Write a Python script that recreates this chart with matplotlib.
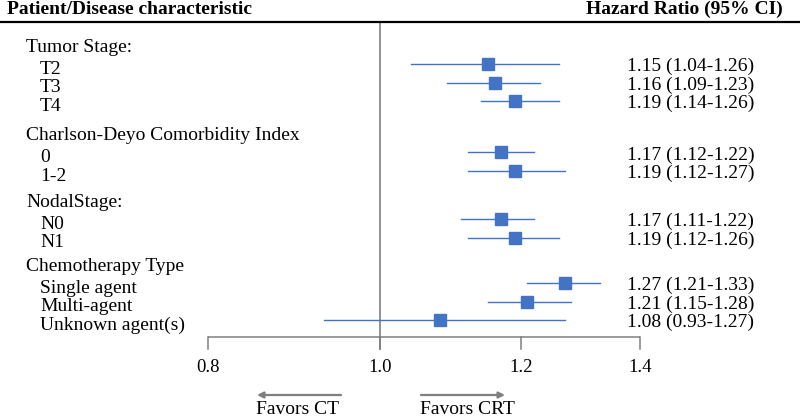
import numpy as np
import matplotlib
matplotlib.use("Agg")
import matplotlib.pyplot as plt
from matplotlib.transforms import blended_transform_factory

# ---------------- data ----------------
group_names = ["Tumor Stage:", "Charlson-Deyo Comorbidity Index", "NodalStage:", "Chemotherapy Type"]
group_items = [["T2", "T3", "T4"], ["0", "1-2"], ["N0", "N1"],
               ["Single agent", "Multi-agent", "Unknown agent(s)"]]
hr = [1.15, 1.16, 1.19, 1.17, 1.19, 1.17, 1.19, 1.27, 1.21, 1.08]
ci_low = [1.04, 1.09, 1.14, 1.12, 1.12, 1.11, 1.12, 1.21, 1.15, 0.93]
ci_high = [1.26, 1.23, 1.26, 1.22, 1.27, 1.22, 1.26, 1.33, 1.28, 1.27]
ticks = [0.8, 1.0, 1.2, 1.4]
tick_labels = ["0.8", "1.0", "1.2", "1.4"]
header_left = "Patient/Disease characteristic"
header_right = "Hazard Ratio (95% CI)"
favors_left = "Favors CT"
favors_right = "Favors CRT"

# ---------------- layout (pixels from top) ----------------
group_header_y = [45, 133.5, 200, 264]
first_item_offset = 19
item_step = 18.7

# ---------------- figure ----------------
W, H = 800, 419
fig = plt.figure(figsize=(W / 100, H / 100), dpi=100)
ax = fig.add_axes([0, 0, 1, 1])
ax.set_xscale("log")
# map 0.8 -> px 208, 1.4 -> px 640
p0, p1 = 208, 640
k = (np.log(1.4) - np.log(0.8)) / (p1 - p0)
ax.set_xlim(np.exp(np.log(0.8) - p0 * k), np.exp(np.log(1.4) + (W - p1) * k))
ax.set_ylim(H, 0)
ax.axis("off")

serif = ["Liberation Serif", "DejaVu Serif"]
FS = 14
blue = "#4472C4"
gray = "#7f7f7f"
tr = blended_transform_factory(ax.transAxes, ax.transData)

# header
ax.text(7 / W, 14, header_left, transform=tr, fontsize=FS, fontweight="bold",
        family=serif, va="baseline", ha="left")
ax.text(783 / W, 14, header_right, transform=tr, fontsize=FS, fontweight="bold",
        family=serif, va="baseline", ha="right")
ax.plot([0, 1], [22, 22], transform=tr, color="black", lw=1.6, solid_capstyle="butt")

# reference line at 1.0
ax.plot([1.0, 1.0], [23, 349], color=gray, lw=1.2, zorder=1)

# rows
cap = 6.5
idx = 0
for g, items, gy in zip(group_names, group_items, group_header_y):
    ax.text(26 / W, gy + cap, g, transform=tr, fontsize=FS, family=serif, va="baseline")
    for j, it in enumerate(items):
        y = gy + first_item_offset + j * item_step
        ax.text(40 / W, y + cap + 3, it, transform=tr, fontsize=FS, family=serif, va="baseline")
        ax.plot([ci_low[idx], ci_high[idx]], [y, y], color=blue, lw=1.0, zorder=2)
        ax.plot([hr[idx]], [y], marker="s", ms=8.6, color=blue, mec=blue, zorder=3)
        ax.text(627 / W, y + cap + 0.5,
                f"{hr[idx]:.2f} ({ci_low[idx]:.2f}-{ci_high[idx]:.2f})",
                transform=tr, fontsize=FS, family=serif, va="baseline")
        idx += 1

# x axis
ax.plot([ticks[0], ticks[-1]], [337, 337], color=gray, lw=1.1, solid_capstyle="butt")
for t, lab in zip(ticks, tick_labels):
    ax.plot([t, t], [337, 349], color=gray, lw=1.1)
    ax.text(t, 367, lab, fontsize=13.5, family=serif, ha="center", va="center")

# favors arrows
ax.annotate("", xy=(257 / W, 395), xytext=(341 / W, 395), xycoords=tr, textcoords=tr,
            arrowprops=dict(arrowstyle="-|>", color=gray, lw=1.6, mutation_scale=9,
                            shrinkA=0, shrinkB=0))
ax.annotate("", xy=(505 / W, 395), xytext=(421 / W, 395), xycoords=tr, textcoords=tr,
            arrowprops=dict(arrowstyle="-|>", color=gray, lw=1.6, mutation_scale=9,
                            shrinkA=0, shrinkB=0))
ax.text(298 / W, 414, favors_left, transform=tr, fontsize=FS, family=serif,
        ha="center", va="baseline")
ax.text(467 / W, 414, favors_right, transform=tr, fontsize=FS, family=serif,
        ha="center", va="baseline")

fig.savefig("out.png", dpi=100)
